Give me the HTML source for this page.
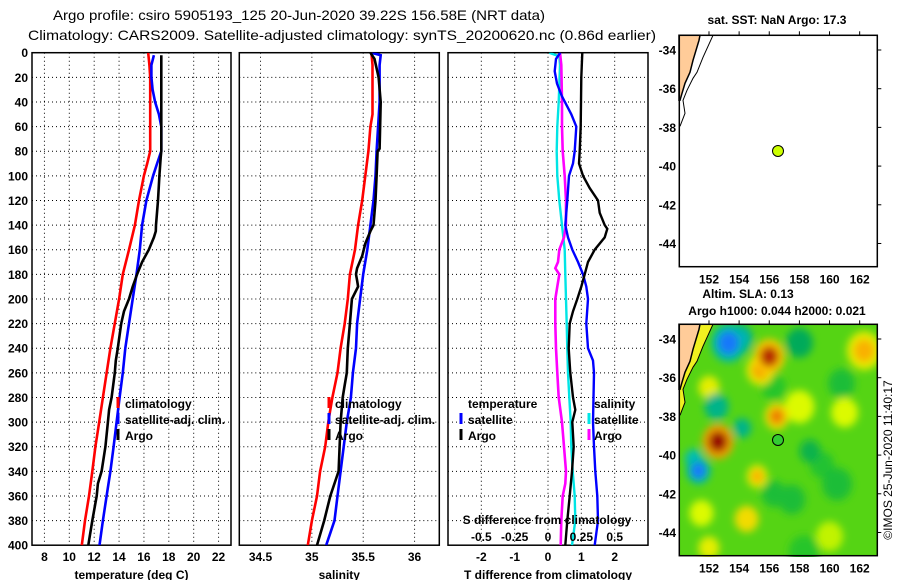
<!DOCTYPE html>
<html><head><meta charset="utf-8"><style>
html,body{margin:0;padding:0;background:#fff;}
svg{display:block;font-family:"Liberation Sans",sans-serif;}
.tk{font-size:12px;font-weight:bold;fill:#000;}
.nb{font-weight:normal;}
</style></head><body>
<svg id="s" width="900" height="580" viewBox="0 0 900 580" xmlns="http://www.w3.org/2000/svg">
<defs>
<clipPath id="c1"><rect x="32" y="52.7" width="199" height="492.5"/></clipPath>
<clipPath id="c2"><rect x="239.3" y="52.7" width="200" height="492.5"/></clipPath>
<clipPath id="c3"><rect x="448" y="52.7" width="200" height="492.5"/></clipPath>
<clipPath id="cm1"><rect x="679" y="35" width="198" height="232"/></clipPath>
<clipPath id="cm2"><rect x="680" y="324" width="197" height="233"/></clipPath>
<filter id="blur" x="-20%" y="-20%" width="140%" height="140%"><feGaussianBlur stdDeviation="4"/></filter>
</defs>
<text x="299" y="20" text-anchor="middle" font-size="14" textLength="492" lengthAdjust="spacingAndGlyphs">Argo profile: csiro 5905193_125 20-Jun-2020 39.22S 156.58E (NRT data)</text>
<text x="342" y="40" text-anchor="middle" font-size="14" textLength="628" lengthAdjust="spacingAndGlyphs">Climatology: CARS2009. Satellite-adjusted climatology: synTS_20200620.nc (0.86d earlier)</text>
<g id="g"></g>
</svg>
<script>
// ---- data ----
const depthTicks=[0,20,40,60,80,100,120,140,160,180,200,220,240,260,280,300,320,340,360,380,400];
const tempTicks=[8,10,12,14,16,18,20,22];
const salTicks=[34.5,35,35.5,36];
const salTickLabels=["34.5","35","35.5","36"];
const tdiffTicks=[-2,-1,0,1,2];
const sdiffTicks=[-0.5,-0.25,0,0.25,0.5];
const sdiffTickLabels=["-0.5","-0.25","0","0.25","0.5"];

const tClimDepth=[0,10,20,80,90,100,120,140,160,180,200,240,280,300,320,340,360,380,400];
const tClimVal=[16.34,16.44,16.5,16.5,16.26,16.0,15.6,15.27,14.8,14.3,14.0,13.3,12.7,12.4,12.1,11.85,11.58,11.26,11.0];
const tSatDepth=[2,10,20,30,40,50,60,80,90,100,120,140,160,180,200,220,240,260,280,300,320,340,360,380,400];
const tSatVal=[16.8,16.6,16.6,16.7,16.9,17.2,17.4,17.4,17.06,16.74,16.2,15.85,15.67,15.4,15.1,14.8,14.5,14.3,14.04,13.8,13.56,13.3,13.0,12.7,12.43];
const tArgoDepth=[2,80,85,100,120,140,145,150,160,170,180,190,200,210,220,240,250,260,280,290,300,320,340,350,360,380,400];
const tArgoVal=[17.4,17.4,17.35,17.24,17.13,16.97,16.95,16.8,16.39,15.85,15.45,15.1,14.8,14.4,14.17,13.9,13.74,13.66,13.4,13.2,13.1,12.9,12.6,12.3,12.2,11.85,11.53];

const sClimDepth=[0,10,50,60,80,100,120,140,160,180,200,220,240,260,280,290,300,320,340,360,380,400];
const sClimVal=[35.58,35.59,35.59,35.57,35.55,35.52,35.49,35.45,35.42,35.37,35.35,35.32,35.28,35.25,35.2,35.18,35.16,35.13,35.08,35.05,35.0,34.96];
const sSatDepth=[0,2,10,40,80,100,120,140,160,180,200,220,240,260,280,300,320,340,360,380,400];
const sSatVal=[35.58,35.67,35.66,35.66,35.63,35.62,35.6,35.57,35.54,35.5,35.47,35.44,35.43,35.4,35.38,35.34,35.31,35.28,35.25,35.22,35.14];
const sArgoDepth=[0,5,20,40,78,80,100,120,130,140,145,155,165,175,180,185,190,200,220,240,260,270,280,300,320,340,345,360,380,400];
const sArgoVal=[35.57,35.61,35.65,35.67,35.66,35.64,35.63,35.62,35.61,35.6,35.57,35.52,35.49,35.44,35.43,35.44,35.45,35.39,35.37,35.35,35.34,35.32,35.3,35.28,35.27,35.26,35.24,35.18,35.12,35.05];

const dTSatDepth=[0,5,15,25,35,50,60,80,90,100,120,140,150,160,170,180,190,200,220,240,250,260,300,320,340,360,380,400];
const dTSatVal=[0.37,0.24,0.2,0.27,0.41,0.7,0.85,0.8,0.75,0.63,0.58,0.52,0.6,0.73,0.9,1.05,1.15,1.2,1.15,1.2,1.35,1.38,1.35,1.38,1.42,1.48,1.5,1.4];
const dTArgoDepth=[0,20,60,80,90,100,110,120,130,140,143,150,160,170,180,190,200,210,220,240,260,280,290,300,320,340,360,380,400];
const dTArgoVal=[1.03,1.0,0.98,0.95,0.93,1.05,1.25,1.5,1.55,1.7,1.78,1.7,1.4,1.2,1.1,1.0,0.88,0.75,0.65,0.62,0.67,0.75,0.82,0.73,0.77,0.72,0.65,0.58,0.52];
const dSSatDepth=[0,3,10,40,60,80,100,120,140,160,180,200,220,240,260,280,300,320,340,360,380,400];
const dSSatVal=[0.01,0.085,0.09,0.08,0.07,0.065,0.07,0.085,0.105,0.125,0.13,0.135,0.14,0.145,0.15,0.16,0.17,0.175,0.185,0.2,0.205,0.18];
const dSArgoDepth=[0,10,40,60,80,100,120,140,150,160,170,175,180,190,200,220,240,260,280,300,320,340,350,360,380,400];
const dSArgoVal=[0.09,0.1,0.105,0.105,0.11,0.125,0.135,0.135,0.12,0.085,0.075,0.055,0.085,0.07,0.055,0.055,0.06,0.07,0.08,0.105,0.12,0.135,0.13,0.11,0.1,0.095];

const lonTicks=[152,154,156,158,160,162];
const latTicks=[-34,-36,-38,-40,-42,-44];
const argoLon=156.58, argoLat=-39.22;
// SLA anomaly features: lon, lat, value (m), radius (deg)
const slaLon=[153.3,154.0,151.3,152.5,154.2,151.0,152.6,156.0,155.4,156.5,155.2,162.3,154.5,158.0,158.7,160.8,158.0,161.0,160.0,152.0,157.5,152.0,160.5,156.3,151.5,158.3,156.3,159.5];
const slaLat=[-34.2,-34.0,-40.8,-37.5,-38.6,-40.2,-39.3,-34.9,-35.6,-38.0,-41.1,-34.6,-43.3,-34.2,-39.8,-36.3,-37.5,-37.8,-44.2,-44.8,-42.3,-36.5,-41.5,-36.5,-43.0,-45.0,-42.0,-40.5];
const slaVal=[-0.42,-0.35,-0.42,-0.2,-0.2,-0.25,0.55,0.45,0.3,0.35,0.28,0.28,0.2,-0.15,-0.12,-0.08,0.12,0.12,0.1,0.15,-0.08,0.15,-0.08,-0.05,0.12,-0.05,-0.08,-0.06];
const slaRad=[1.0,0.8,0.7,0.8,0.6,0.6,0.9,0.9,0.8,0.7,0.6,1.0,0.8,0.9,0.7,0.9,1.0,0.9,0.9,0.7,0.9,0.7,1.0,0.8,0.8,1.0,0.8,0.8];

// ---- drawing ----
const NS='http://www.w3.org/2000/svg';
const G=document.getElementById('g');
function mk(tag,attrs,parent){const e=document.createElementNS(NS,tag);for(const k in attrs)e.setAttribute(k,attrs[k]);(parent||G).appendChild(e);return e;}
const yTop=52.7,yBot=545.2;
function yD(d){return yTop+(d/400)*(yBot-yTop);}
function lin(d0,d1,r0,r1){return v=>r0+(v-d0)/(d1-d0)*(r1-r0);}
const xT=lin(7,23,32,231);
const xS=lin(34.2935,36.2408,239.3,439.3);
const xDT=lin(-3,3,448,648);
const xDS=lin(-0.75,0.75,448,648);

function panel(name,x0,x1,xf,ticks,labels,title){
  const grp=mk('g',{});
  
  
  depthTicks.forEach(d=>{if(d>0&&d<400){const l=mk('line',{x1:x0,x2:x1,y1:yD(d),y2:yD(d),stroke:'#000','stroke-width':1,'stroke-dasharray':'1,3'},grp);}});
  ticks.forEach((t,i)=>{const x=xf(t);const l=mk('line',{x1:x,x2:x,y1:yTop,y2:yBot,stroke:'#000','stroke-width':1,'stroke-dasharray':'1,3'},grp);
    if(labels){const tx=mk('text',{x:x,y:561,'text-anchor':'middle',class:'tk'},grp);tx.textContent=labels[i];}});
  const fr=mk('rect',{x:x0,y:yTop,width:x1-x0,height:yBot-yTop,fill:'none',stroke:'#000','stroke-width':1.5},grp);
  
  const tt=mk('text',{x:(x0+x1)/2,y:579,'text-anchor':'middle',class:'tk'},grp);tt.textContent=title;
  
  return grp;
}
function series(name,depths,vals,xf,color,w,clip){
  const pts=depths.map((d,i)=>xf(vals[i]).toFixed(1)+','+yD(d).toFixed(1)).join(' ');
  const p=mk('polyline',{points:pts,fill:'none',stroke:color,'stroke-width':w,'stroke-linejoin':'miter','clip-path':'url(#'+clip+')'});
  
}
function txt(name,x,y,s,anchor,extra){const t=mk('text',Object.assign({x:x,y:y,'text-anchor':anchor||'start',class:'tk'},extra||{}));t.textContent=s;return t;}
function mark(name,x,y,color){const r=mk('rect',{x:x-1.5,y:y-7,width:3,height:11,fill:color});}

depthTicks.forEach(d=>{txt('depth-tick-label',28,yD(d)+4.5,String(d),'end');});

panel('temperature-panel',32,231,xT,tempTicks,tempTicks.map(String),'temperature (deg C)');
series('temp-climatology-line',tClimDepth,tClimVal,xT,'#ff0000',2.6,'c1');
series('temp-satellite-line',tSatDepth,tSatVal,xT,'#0000ff',2.6,'c1');
series('temp-argo-line',tArgoDepth,tArgoVal,xT,'#000',2.6,'c1');
mark('legend-climatology-marker',118,404,'#ff0000');mark('legend-satellite-marker',118,420,'#0000ff');mark('legend-argo-marker',118,436,'#000');
txt('legend-climatology',125,408,'climatology');txt('legend-satellite-adj',125,424,'satellite-adj. clim.');txt('legend-argo',125,440,'Argo');

panel('salinity-panel',239.3,439.3,xS,salTicks,salTickLabels,'salinity');
series('sal-climatology-line',sClimDepth,sClimVal,xS,'#ff0000',2.6,'c2');
series('sal-satellite-line',sSatDepth,sSatVal,xS,'#0000ff',2.6,'c2');
series('sal-argo-line',sArgoDepth,sArgoVal,xS,'#000',2.6,'c2');
mark('legend-climatology-marker',329,404,'#ff0000');mark('legend-satellite-marker',329,420,'#0000ff');mark('legend-argo-marker',329,436,'#000');
txt('legend-climatology',335,408,'climatology');txt('legend-satellite-adj',335,424,'satellite-adj. clim.');txt('legend-argo',335,440,'Argo');

panel('difference-panel',448,648,xDT,tdiffTicks,tdiffTicks.map(String),'T difference from climatology');
series('sal-diff-satellite-line',dSSatDepth,dSSatVal,xDS,'#00e5e5',2.4,'c3');
series('sal-diff-argo-line',dSArgoDepth,dSArgoVal,xDS,'#ff00ff',2.6,'c3');
series('temp-diff-satellite-line',dTSatDepth,dTSatVal,xDT,'#0000ff',2.4,'c3');
series('temp-diff-argo-line',dTArgoDepth,dTArgoVal,xDT,'#000',2.4,'c3');
txt('legend-temperature-heading',468,408,'temperature');txt('legend-salinity-heading',594,408,'salinity');
mark('legend-t-satellite-marker',461,420,'#0000ff');txt('legend-t-satellite',468,424,'satellite');
mark('legend-t-argo-marker',461,436,'#000');txt('legend-t-argo',468,440,'Argo');
mark('legend-s-satellite-marker',589,420,'#00e5e5');txt('legend-s-satellite',594,424,'satellite');
mark('legend-s-argo-marker',589,436,'#ff00ff');txt('legend-s-argo',594,440,'Argo');
txt('s-axis-title',547,524,'S difference from climatology','middle');
sdiffTicks.forEach((s,i)=>txt('s-tick-label',xDS(s),541,sdiffTickLabels[i],'middle'));

// ---- maps ----
const lonX=lin(150.03,163.17,679.3,877.3);
function mapPanel(name,x0,y0,w,h,clip,heat,dotColor){
  const latY=lin(-33.24,-45.2,y0,y0+h);
  const grp=mk('g',{});
  const bg=mk('rect',{x:x0,y:y0,width:w,height:h,fill:heat?'#55d414':'#fff'},grp);
  
  if(heat){
    const hg=mk('g',{filter:'url(#blur)','clip-path':'url(#'+clip+')'},grp);
    
    const stops=[[-0.45,[30,100,255]],[-0.3,[0,200,230]],[-0.15,[0,170,90]],[0,[60,210,20]],[0.12,[220,250,0]],[0.25,[255,200,0]],[0.38,[230,100,0]],[0.5,[150,0,0]]];
    function cmap(v){if(v<=stops[0][0])return stops[0][1];for(let i=1;i<stops.length;i++){if(v<=stops[i][0]){const a=stops[i-1],b=stops[i],t=(v-a[0])/(b[0]-a[0]);return a[1].map((c,k)=>Math.round(c+(b[1][k]-c)*t));}}return stops[stops.length-1][1];}
    const order=slaVal.map((v,i)=>i).sort((a,b)=>Math.abs(slaVal[a])-Math.abs(slaVal[b]));
    order.forEach(i=>{const v=slaVal[i];const c=cmap(v);
      // halo ring of intermediate colour for the stronger features
      if(Math.abs(v)>0.25){const c2=cmap(v*0.55);
        const h2=mk('ellipse',{cx:lonX(slaLon[i]),cy:lonX?latY(slaLat[i]):0,rx:slaRad[i]*15*1.15,ry:slaRad[i]*19.4*1.0,fill:'rgb('+c2.join(',')+')'},hg);
        }
      const e=mk('ellipse',{cx:lonX(slaLon[i]),cy:latY(slaLat[i]),rx:slaRad[i]*15*(Math.abs(v)>0.25?0.7:1),ry:slaRad[i]*19.4*(Math.abs(v)>0.25?0.6:0.85),fill:'rgb('+c.join(',')+')'},hg);
      });
  }
  const dy=y0-35;
  const land='679,'+(y0)+' 700,'+(y0)+' 699,'+(40+dy)+' 693,'+(60+dy)+' 690,'+(72+dy)+' 685,'+(83+dy)+' 682,'+(93+dy)+' 680,'+(100+dy)+' 679,'+(100+dy);
  if(heat){const sh=mk('polygon',{points:'679,'+y0+' 713,'+y0+' 703,'+(57+dy)+' 697,'+(72+dy)+' 687,'+(90+dy)+' 683,'+(100+dy)+' 685,'+(113+dy)+' 680,'+(126+dy)+' 679,'+(126+dy),fill:'#f0f020'},grp);}
  const ld=mk('polygon',{points:land,fill:'#ffcc99',stroke:'#000','stroke-width':1.5},grp);
  
  const ct=mk('polyline',{points:'713,'+y0+' 703,'+(57+dy)+' 697,'+(72+dy)+' 693,'+(78+dy)+' 687,'+(90+dy)+' 683,'+(100+dy)+' 685,'+(113+dy)+' 680,'+(126+dy),fill:'none',stroke:'#000','stroke-width':1},grp);
  
  const fr=mk('rect',{x:x0,y:y0,width:w,height:h,fill:'none',stroke:'#000','stroke-width':1.5},grp);
  
  lonTicks.forEach(l=>{const x=lonX(l);mk('line',{x1:x,x2:x,y1:y0,y2:y0-4,stroke:'#000'},grp);
    const t=mk('text',{x:x,y:y0+h+17,'text-anchor':'middle',class:'tk'},grp);t.textContent=String(l);});
  latTicks.forEach(l=>{const y=latY(l);mk('line',{x1:x0+w,x2:x0+w+4,y1:y,y2:y,stroke:'#000'},grp);
    const t=mk('text',{x:676,y:y+4.5,'text-anchor':'end',class:'tk'},grp);t.textContent=String(l);});
  const dot=mk('circle',{cx:lonX(argoLon),cy:latY(argoLat),r:5.5,fill:dotColor,stroke:'#000','stroke-width':1},grp);
  
}
mapPanel('sst-map',679.3,35.3,198,231.4,'cm1',false,'#ccff00');
mapPanel('sla-map',679.3,324.3,198,231.4,'cm2',true,'#33cc33');
txt('sst-map-title',777,24,'sat. SST: NaN Argo: 17.3','middle');
txt('sla-map-title',748,298,'Altim. SLA: 0.13','middle');
txt('sla-map-subtitle',777,315,'Argo h1000: 0.044 h2000: 0.021','middle');
txt('imos-credit',0,0,'©IMOS 25-Jun-2020 11:40:17','middle',{transform:'translate(892,460) rotate(-90)',class:'tk nb'});
</script>
</body></html>
